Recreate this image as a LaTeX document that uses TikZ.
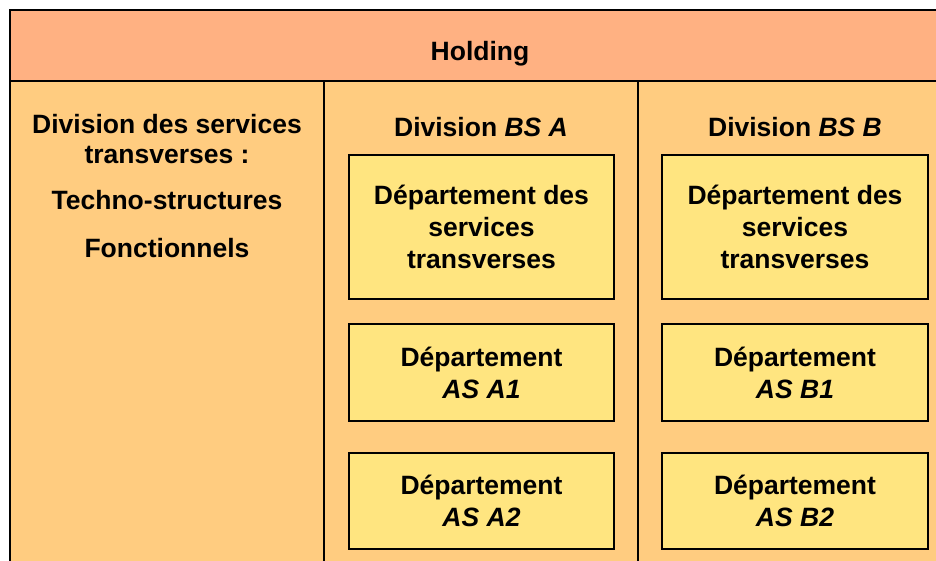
\documentclass[tikz,border=0pt]{standalone}
\usepackage{fontspec}
\setmainfont{Liberation Sans}
\definecolor{hdr}{RGB}{255,177,130}
\definecolor{body}{RGB}{255,204,128}
\definecolor{dept}{RGB}{255,229,128}
\begin{document}
\begin{tikzpicture}[x=1pt,y=-1pt,
  lbl/.style={font=\fontsize{26.5}{32}\selectfont\bfseries, align=center, inner sep=0pt},
  deptbox/.style={draw=black, line width=2pt, fill=dept, minimum width=265pt, anchor=north west, lbl}]
\useasboundingbox (0,0) rectangle (936,560);
\clip (0,0) rectangle (936,560);
% backgrounds
\fill[white] (0,0) rectangle (936,560);
\fill[body] (10,81) rectangle (960,580);
\fill[hdr] (10,10) rectangle (960,81);
\draw[line width=2pt] (960,10) -- (10,10) -- (10,580);
\draw[line width=2pt] (10,81) -- (960,81);
\coordinate (d1t) at (324,81); \coordinate (d1b) at (324,580);
\coordinate (d2t) at (638,81); \coordinate (d2b) at (638,580);
\draw[line width=2pt] (d1t) -- (d1b);
\draw[line width=2pt] (d2t) -- (d2b);
% header
\node[lbl] (holding) at (480,54) {Holding};
% left column
\node[lbl, anchor=base, font=\fontsize{26.5}{30}\selectfont\bfseries] (left1) at (167,163) {Division des services\\transverses :};
\node[lbl, anchor=base] (left2) at (167,209) {Techno-structures};
\node[lbl, anchor=base] (left3) at (167,257) {Fonctionnels};
% column titles
\node[lbl, anchor=base] (divA) at (481,136) {Division \textit{BS A}};
\node[lbl, anchor=base] (divB) at (795,136) {Division \textit{BS B}};
% departments A
\node[deptbox, minimum height=144pt] (a0) at (348,154) {Département des\\services\\transverses};
\node[deptbox, minimum height=97pt] (a1) at (348,323) {Département\\\textit{AS A1}};
\node[deptbox, minimum height=96pt] (a2) at (348,452) {Département\\\textit{AS A2}};
% departments B
\node[deptbox, minimum height=144pt, minimum width=266pt] (b0) at (661,154) {Département des\\services\\transverses};
\node[deptbox, minimum height=97pt, minimum width=266pt] (b1) at (661,323) {Département\\\textit{AS B1}};
\node[deptbox, minimum height=96pt, minimum width=266pt] (b2) at (661,452) {Département\\\textit{AS B2}};
\end{tikzpicture}
\end{document}
